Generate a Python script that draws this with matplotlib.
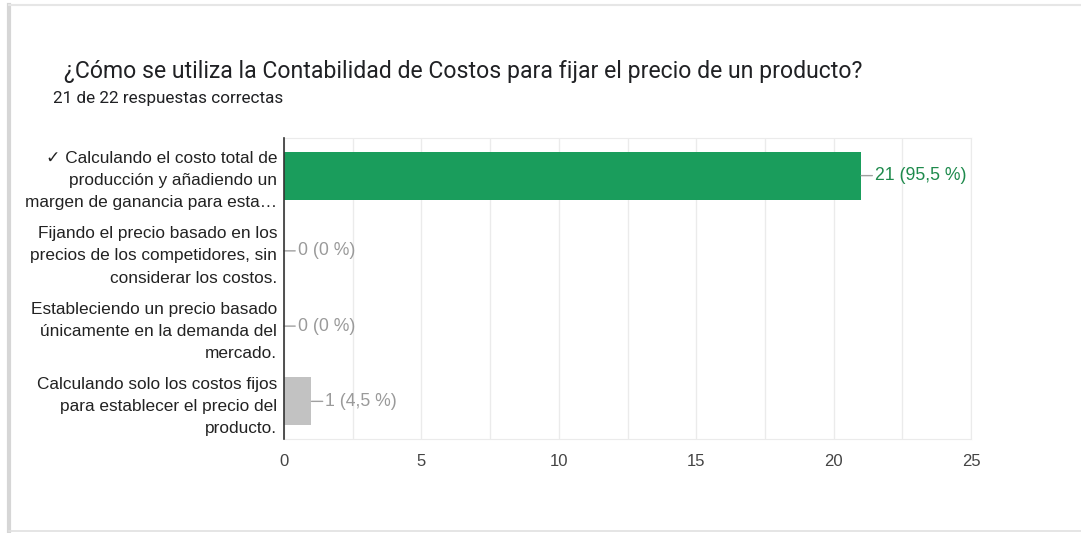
import matplotlib
matplotlib.use("Agg")
import matplotlib.pyplot as plt
from matplotlib.lines import Line2D

# data
titulo = "¿Cómo se utiliza la Contabilidad de Costos para fijar el precio de un producto?"
subtitulo = "21 de 22 respuestas correctas"
opciones = [
    "✓ Calculando el costo total de\nproducción y añadiendo un\nmargen de ganancia para esta…",
    "Fijando el precio basado en los\nprecios de los competidores, sin\nconsiderar los costos.",
    "Estableciendo un precio basado\núnicamente en la demanda del\nmercado.",
    "Calculando solo los costos fijos\npara establecer el precio del\nproducto.",
]
respuestas = [21, 0, 0, 1]
porcentajes = ["95,5", "0", "0", "4,5"]
correcta = [True, False, False, False]
xticks = [0, 5, 10, 15, 20, 25]

fuente = ["Liberation Sans", "DejaVu Sans"]
verde = "#1a9d5c"
verde_txt = "#1e8a4c"
gris_barra = "#c2c2c2"
gris_txt = "#9a9a9a"

fig = plt.figure(figsize=(10.81, 5.33), dpi=100)

# card border / shadow
fig.add_artist(Line2D([0.0085, 0.0085], [0.004, 0.99], transform=fig.transFigure,
                      color="#d6d6d6", lw=3))
fig.add_artist(Line2D([0.0085, 1.0], [0.99, 0.99], transform=fig.transFigure,
                      color="#e6e6e6", lw=1.5))
fig.add_artist(Line2D([0.0085, 1.0], [0.004, 0.004], transform=fig.transFigure,
                      color="#e0e0e0", lw=1.2))

fig.text(0.059, 0.865, titulo, fontsize=16.6, family=["Roboto", "DejaVu Sans"],
         color="#202124", va="center", ha="left")
fig.text(0.049, 0.815, subtitulo, fontsize=12.3, family=["Roboto", "DejaVu Sans"],
         color="#202124", va="center", ha="left")

ax = fig.add_axes([0.2627, 0.1764, 0.6356, 0.5647])
pos = list(range(len(opciones)))
colores = [verde if c else gris_barra for c in correcta]
ax.barh(pos, respuestas, height=0.64, color=colores, zorder=3)
ax.set_ylim(len(opciones) - 0.5, -0.5)
ax.set_xlim(0, 25)

ax.set_xticks(xticks)
ax.set_xticks([x + 2.5 for x in xticks[:-1]], minor=True)
ax.tick_params(axis="x", which="both", length=0, pad=11, labelsize=12, labelcolor="#444444")
ax.grid(axis="x", which="both", color="#ebebeb", lw=1, zorder=0)
ax.set_yticks(pos)
ax.set_yticklabels(opciones, fontsize=12.4, color="#222222", linespacing=1.6)
ax.tick_params(axis="y", length=0, pad=5)
for lab in ax.get_yticklabels() + ax.get_xticklabels():
    lab.set_family(fuente)

for s in ["top", "bottom", "right"]:
    ax.spines[s].set_color("#ebebeb")
ax.spines["left"].set_color("#333333")
ax.spines["left"].set_linewidth(1.2)
ax.spines["left"].set_zorder(4)

for i, (v, p, c) in enumerate(zip(respuestas, porcentajes, correcta)):
    col = verde_txt if c else gris_txt
    ax.annotate(f"{v} ({p} %)", xy=(v, i), xytext=(14, 0), textcoords="offset pixels",
                ha="left", va="center", fontsize=12.7, color=col, family=fuente,
                arrowprops=dict(arrowstyle="-", color="#a0a0a0", lw=1,
                                shrinkA=0, shrinkB=0))

fig.savefig("out.png", dpi=100)
